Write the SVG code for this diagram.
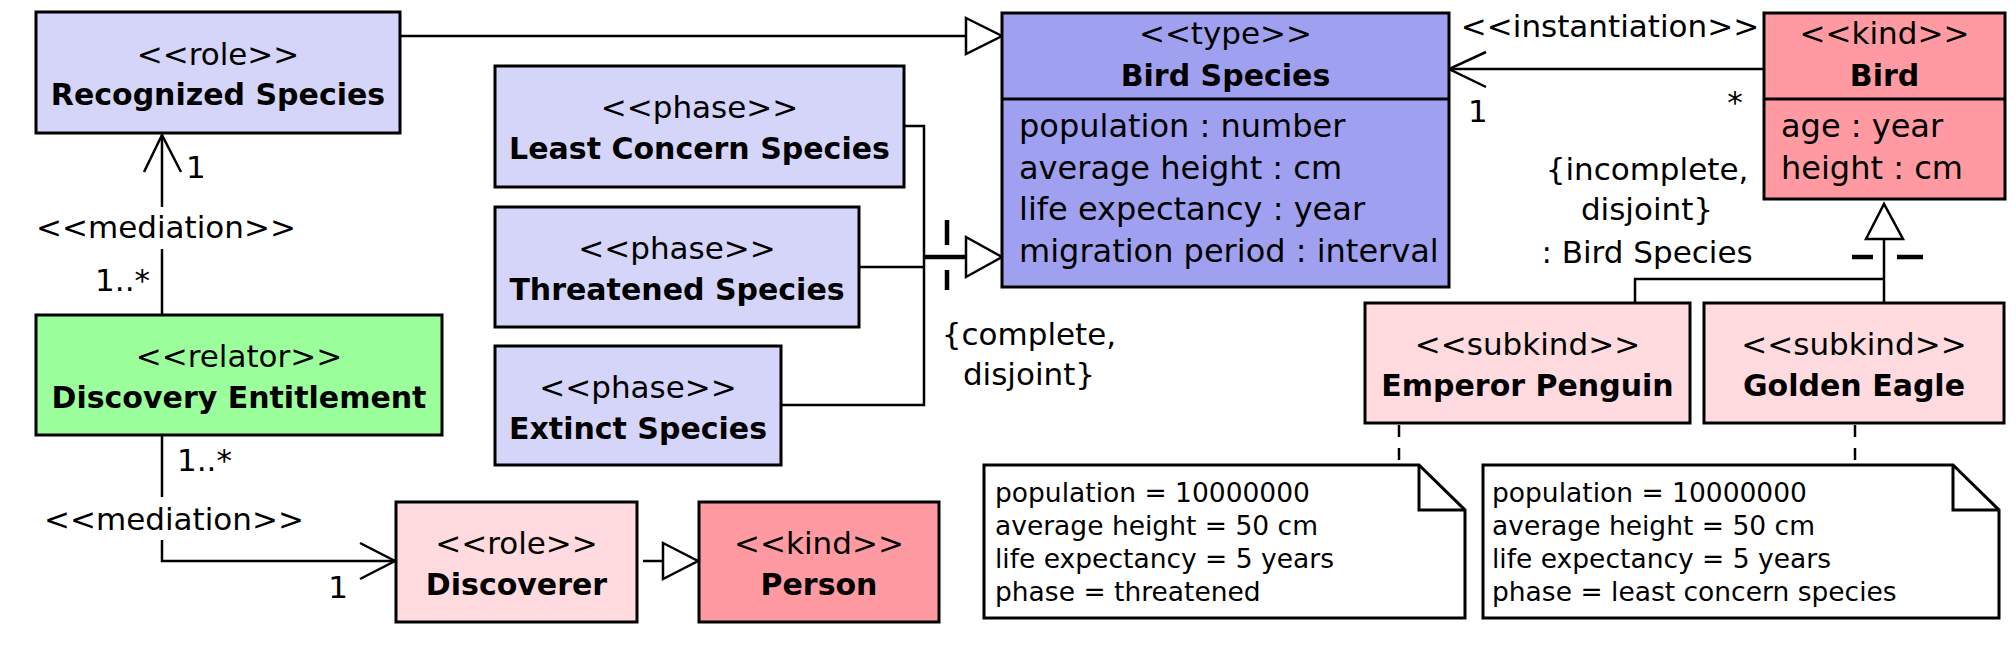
<svg xmlns="http://www.w3.org/2000/svg" width="2016" height="660" viewBox="0 0 2016 660">
<style>
text{font-family:"DejaVu Sans","Liberation Sans",sans-serif;fill:#000}
.st{font-size:31px;text-anchor:middle}
.nm{font-size:30px;font-weight:bold;text-anchor:middle}
.at{font-size:32px}
.lb{font-size:31px}
.nt{font-size:26.5px}
.box{stroke:#000;stroke-width:3}
.lav{fill:#D5D5FA}
.blue{fill:#A0A0F0}
.pink{fill:#FF9AA2}
.lpink{fill:#FFDADF}
.green{fill:#9BFF9B}
.ln{stroke:#000;stroke-width:2.5;fill:none}
.tri{stroke:#000;stroke-width:2.5;fill:#fff}
.thick{stroke:#000;stroke-width:4.5;fill:none}
.dash{stroke:#000;stroke-width:2.5;fill:none;stroke-dasharray:12 11}
.note{stroke:#000;stroke-width:3;fill:#fff}
</style>
<g id="connectors">
  <path class="ln" d="M400,36 H966"/>
  <polygon class="tri" points="966,18 1002,36 966,54"/>
  <path class="ln" d="M904,126 H924 V405 H781"/>
  <path class="ln" d="M859,267 H924"/>
  <path class="thick" d="M924,257 H966"/>
  <polygon class="tri" points="966,237 1002,257 966,277"/>
  <path class="thick" d="M947,220 V245 M947,270 V290"/>
  <text class="lb" x="1029" y="345" text-anchor="middle">{complete,</text>
  <text class="lb" x="1029" y="385" text-anchor="middle">disjoint}</text>
  <path class="ln" d="M162,207 V135 M162,249 V315"/>
  <path class="ln" d="M144,172 L162,135 L181,172"/>
  <text class="lb" x="166" y="238" text-anchor="middle">&lt;&lt;mediation&gt;&gt;</text>
  <text class="lb" x="186" y="178">1</text>
  <text class="lb" x="150" y="291" text-anchor="end">1..*</text>
  <path class="ln" d="M162,435 V497 M162,540 V561 H395"/>
  <path class="ln" d="M360,543 L395,561 L360,579"/>
  <text class="lb" x="174" y="530" text-anchor="middle">&lt;&lt;mediation&gt;&gt;</text>
  <text class="lb" x="177" y="471">1..*</text>
  <text class="lb" x="338" y="598" text-anchor="middle">1</text>
  <path class="ln" d="M643,561 H663"/>
  <polygon class="tri" points="663,543 698,561 663,579"/>
  <path class="ln" d="M1764,69 H1449"/>
  <path class="ln" d="M1486,52 L1449,69 L1486,87"/>
  <text class="lb" x="1610" y="37" text-anchor="middle">&lt;&lt;instantiation&gt;&gt;</text>
  <text class="lb" x="1468" y="122">1</text>
  <text class="lb" x="1735" y="113" text-anchor="middle">*</text>
  <polygon class="tri" points="1866,239 1884,204 1903,239"/>
  <path class="ln" d="M1884,239 V303 M1884,279 H1635 V303"/>
  <path class="thick" d="M1852,257 H1873 M1897,257 H1923"/>
  <text class="lb" x="1647" y="180" text-anchor="middle">{incomplete,</text>
  <text class="lb" x="1647" y="220" text-anchor="middle">disjoint}</text>
  <text class="lb" x="1647" y="263" text-anchor="middle">: Bird Species</text>
  <path class="dash" d="M1399,425 V465"/>
  <path class="dash" d="M1855,425 V465"/>
</g>
<g id="recognized-species">
  <rect class="box lav" x="36" y="12" width="364" height="121"/>
  <text class="st" x="218" y="65">&lt;&lt;role&gt;&gt;</text>
  <text class="nm" x="218" y="105">Recognized Species</text>
</g>
<g id="least-concern-species">
  <rect class="box lav" x="495" y="66" width="409" height="121"/>
  <text class="st" x="699.5" y="118">&lt;&lt;phase&gt;&gt;</text>
  <text class="nm" x="699.5" y="159">Least Concern Species</text>
</g>
<g id="threatened-species">
  <rect class="box lav" x="495" y="207" width="364" height="120"/>
  <text class="st" x="677" y="259">&lt;&lt;phase&gt;&gt;</text>
  <text class="nm" x="677" y="300">Threatened Species</text>
</g>
<g id="extinct-species">
  <rect class="box lav" x="495" y="346" width="286" height="119"/>
  <text class="st" x="638" y="398">&lt;&lt;phase&gt;&gt;</text>
  <text class="nm" x="638" y="439">Extinct Species</text>
</g>
<g id="discovery-entitlement">
  <rect class="box green" x="36" y="315" width="406" height="120"/>
  <text class="st" x="239" y="367">&lt;&lt;relator&gt;&gt;</text>
  <text class="nm" x="239" y="408">Discovery Entitlement</text>
</g>
<g id="discoverer">
  <rect class="box lpink" x="396" y="502" width="241" height="120"/>
  <text class="st" x="516.5" y="554">&lt;&lt;role&gt;&gt;</text>
  <text class="nm" x="516.5" y="595">Discoverer</text>
</g>
<g id="person">
  <rect class="box pink" x="699" y="502" width="240" height="120"/>
  <text class="st" x="819" y="554">&lt;&lt;kind&gt;&gt;</text>
  <text class="nm" x="819" y="595">Person</text>
</g>
<g id="bird-species">
  <rect class="box blue" x="1002" y="13" width="447" height="274"/>
  <line class="box" x1="1002" y1="99" x2="1449" y2="99"/>
  <text class="st" x="1225.5" y="44">&lt;&lt;type&gt;&gt;</text>
  <text class="nm" x="1225.5" y="86">Bird Species</text>
  <text class="at" x="1019" y="137">population : number</text>
  <text class="at" x="1019" y="179">average height : cm</text>
  <text class="at" x="1019" y="220">life expectancy : year</text>
  <text class="at" x="1019" y="262">migration period : interval</text>
</g>
<g id="bird">
  <rect class="box pink" x="1764" y="13" width="241" height="186"/>
  <line class="box" x1="1764" y1="99" x2="2005" y2="99"/>
  <text class="st" x="1884.5" y="44">&lt;&lt;kind&gt;&gt;</text>
  <text class="nm" x="1884.5" y="86">Bird</text>
  <text class="at" x="1781" y="137">age : year</text>
  <text class="at" x="1781" y="179">height : cm</text>
</g>
<g id="emperor-penguin">
  <rect class="box lpink" x="1365" y="303" width="325" height="120"/>
  <text class="st" x="1527.5" y="355">&lt;&lt;subkind&gt;&gt;</text>
  <text class="nm" x="1527.5" y="396">Emperor Penguin</text>
</g>
<g id="golden-eagle">
  <rect class="box lpink" x="1704" y="303" width="300" height="120"/>
  <text class="st" x="1854" y="355">&lt;&lt;subkind&gt;&gt;</text>
  <text class="nm" x="1854" y="396">Golden Eagle</text>
</g>
<g id="note-emperor-penguin">
  <polygon class="note" points="984,465 1419,465 1465,510 1465,618 984,618"/>
  <polyline class="ln" style="stroke-width:3" points="1419,465 1419,510 1465,510"/>
  <text class="nt" x="995" y="502">population = 10000000</text>
  <text class="nt" x="995" y="535">average height = 50 cm</text>
  <text class="nt" x="995" y="568">life expectancy = 5 years</text>
  <text class="nt" x="995" y="601">phase = threatened</text>
</g>
<g id="note-golden-eagle">
  <polygon class="note" points="1483,465 1953,465 1999,510 1999,618 1483,618"/>
  <polyline class="ln" style="stroke-width:3" points="1953,465 1953,510 1999,510"/>
  <text class="nt" x="1492" y="502">population = 10000000</text>
  <text class="nt" x="1492" y="535">average height = 50 cm</text>
  <text class="nt" x="1492" y="568">life expectancy = 5 years</text>
  <text class="nt" x="1492" y="601">phase = least concern species</text>
</g>
</svg>
